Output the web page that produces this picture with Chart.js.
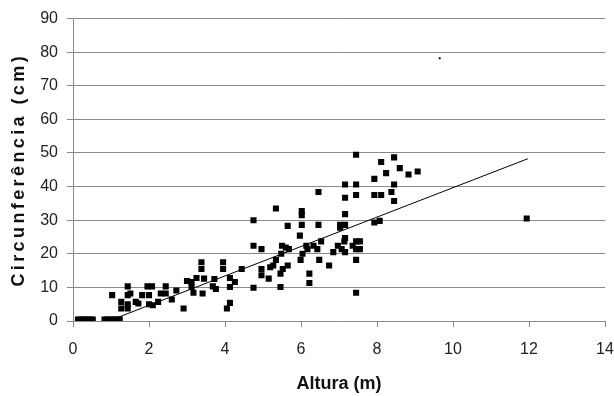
<!DOCTYPE html>
<html>
<head>
<meta charset="utf-8">
<script src="https://cdn.jsdelivr.net/npm/chart.js@4.4.1/dist/chart.umd.min.js"></script>
<style>
html,body{margin:0;padding:0;background:#fff;}
#wrap{width:614px;height:396px;}
</style>
</head>
<body>
<div id="wrap"><canvas id="c" width="614" height="396"></canvas></div>
<script>
const xTitle = "Altura (m)";
const yTitle = "Circunferência (cm)";
const heights = [0.13,0.2,0.27,0.33,0.4,0.46,0.52,0.83,0.9,0.97,1.03,1.1,1.17,1.23,
  1.03,1.27,1.27,1.44,1.44,1.44,1.44,1.51,1.65,1.72,1.82,1.96,2.0,2.0,2.08,2.1,2.24,2.31,2.44,2.44,
  2.6,2.72,2.91,3.0,3.12,3.12,3.17,3.25,3.38,3.38,3.41,3.45,3.68,3.72,3.76,3.95,3.95,4.05,4.13,4.13,
  4.13,4.26,4.44,4.75,4.75,4.75,4.96,4.96,4.96,5.15,5.19,5.27,5.34,5.34,5.46,5.46,5.48,5.5,5.52,5.6,
  5.65,5.65,5.68,5.97,5.99,6.02,6.02,6.02,6.04,6.14,6.17,6.22,6.22,6.33,6.46,6.46,6.43,6.48,6.53,6.74,
  6.85,6.97,7.03,7.03,7.07,7.14,7.16,7.16,7.16,7.16,7.16,7.16,7.36,7.45,7.45,7.45,7.45,7.45,7.45,7.45,
  7.55,7.55,7.93,7.93,7.93,8.07,8.11,8.11,8.24,8.38,8.45,8.45,8.45,8.6,8.83,9.07,11.94];
const circumferences = [0.4,0.4,0.4,0.4,0.4,0.4,0.4,0.4,0.4,0.4,0.4,0.4,0.4,0.4,
  7.7,5.7,3.7,10.3,7.7,5.0,3.7,8.2,5.7,5.2,7.7,10.3,7.7,5.0,10.3,4.7,5.7,8.2,10.3,8.2,
  6.4,9.1,3.7,11.9,11.6,10.1,8.4,12.8,17.5,15.5,8.2,12.6,10.3,12.5,9.5,17.5,15.5,3.7,5.4,12.8,
  10.1,11.6,15.5,30,22.4,9.9,21.4,15.5,13.6,12.6,16,16.5,18.2,33.5,10.1,14.1,20,22.4,15.5,21.9,
  28.3,16.5,21.4,25.4,18.2,32.7,31.5,28.6,20,22.4,21.4,14.1,11.3,22.4,38.4,28.6,21.4,18.2,23.7,16.5,
  20.5,22.4,28.6,27.8,21.4,23.7,40.6,36.7,31.8,28.6,24.7,20.5,22.4,49.5,40.6,37.5,23.7,21.4,18.2,8.4,
  23.7,21.4,42.3,37.5,29.3,29.8,47.3,37.5,44,38.4,48.7,40.6,35.7,45.5,43.6,44.5,30.5];
const strayX = [9.65];
const strayY = [78.2];
const trendX = [1.05, 11.97];
const trendY = [0.5, 48.3];
const xMin = 0, xMax = 14, xStep = 2;
const yMin = 0, yMax = 90, yStep = 10;

const FONT = "Liberation Sans";
const pts = heights.map((h,i)=>({x:h, y:circumferences[i]}));
const stray = strayX.map((v,i)=>({x:v, y:strayY[i]}));
const trend = trendX.map((v,i)=>({x:v, y:trendY[i]}));

const spacedTitle = {
  id:'spacedTitle',
  beforeDraw(chart){
    const s = chart.scales.y;
    if (s && !s._spaced){
      const orig = s.drawTitle;
      s.drawTitle = function(){
        const c = this.ctx;
        const prev = c.letterSpacing;
        c.letterSpacing = '3.4px';
        orig.call(this);
        c.letterSpacing = prev || '0px';
      };
      s._spaced = true;
    }
  }
};

new Chart(document.getElementById('c'), {
  type: 'scatter',
  data: {
    datasets: [
      {data: pts, pointStyle:'rect', pointRadius:4.3, pointBackgroundColor:'#000', pointBorderWidth:0, borderColor:'#000', showLine:false, order:2},
      {data: stray, pointStyle:'rect', pointRadius:1.3, pointBackgroundColor:'#000', pointBorderWidth:0, showLine:false, order:2},
      {data: trend, type:'line', showLine:true, borderColor:'#000', borderWidth:1, pointRadius:0, fill:false, order:1}
    ]
  },
  options: {
    responsive:false, animation:false,
    layout:{padding:{left:0,right:9,top:6,bottom:0}},
    plugins:{legend:{display:false}, tooltip:{enabled:false}},
    scales:{
      x:{
        type:'linear', min:xMin, max:xMax,
        ticks:{stepSize:xStep, color:'#222', font:{family:FONT,size:16}, padding:13, maxRotation:0},
        grid:{drawOnChartArea:false, drawTicks:true, tickLength:6, color:'#8a8a8a'},
        border:{color:'#8a8a8a', width:1},
        title:{display:true, text:xTitle, color:'#111', font:{family:FONT,size:18,weight:'bold'}, padding:{top:0,bottom:1}},
        afterFit:(s)=>{s.height = 75; s.paddingRight = 0;}
      },
      y:{
        type:'linear', min:yMin, max:yMax,
        ticks:{stepSize:yStep, color:'#222', font:{family:FONT,size:16}, padding:9},
        grid:{drawOnChartArea:true, drawTicks:true, tickLength:6, color:'#8a8a8a', lineWidth:1},
        border:{color:'#8a8a8a', width:1},
        title:{display:true, text:yTitle, color:'#111', font:{family:FONT,size:18,weight:'bold'}, padding:{top:8,bottom:0}},
        afterFit:(s)=>{s.width = 73;}
      }
    }
  },
  plugins:[spacedTitle]
});
</script>
</body>
</html>
